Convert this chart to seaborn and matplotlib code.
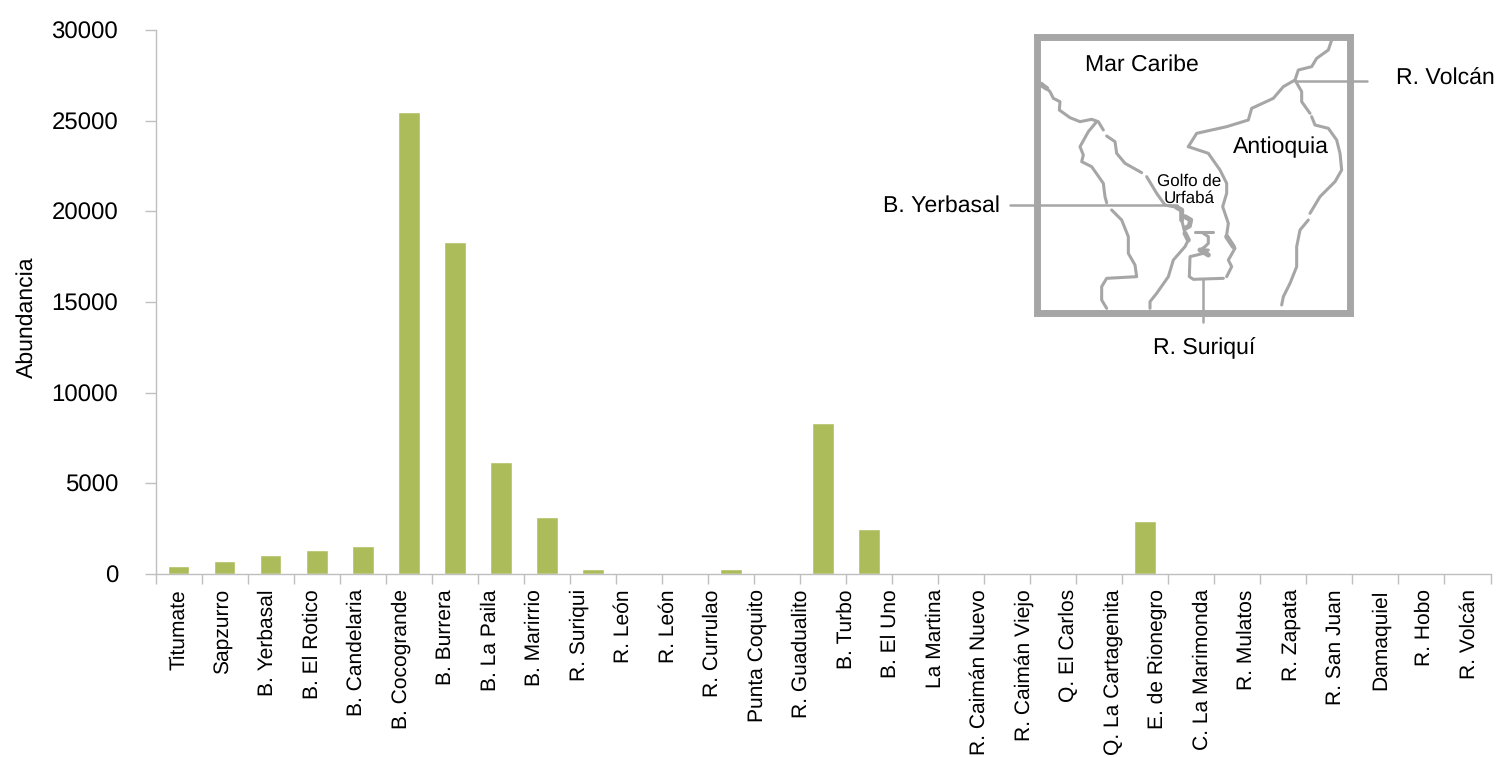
import numpy as np
import matplotlib.pyplot as plt
import seaborn as sns

# one slot per bar
sites = ['Titumate', 'Sapzurro', 'B. Yerbasal', 'B. El Rotico', 'B. Candelaria', 'B. Cocogrande',
         'B. Burrera', 'B. La Paila', 'B. Marirrio', 'R. Suriqui', 'R. León', 'R. Currulao',
         'Punta Coquito', 'R. Guadualito', 'B. Turbo', 'B. El Uno', 'La Martina', 'R. Caimán Nuevo',
         'R. Caimán Viejo', 'Q. El Carlos', 'Q. La Cartagenita', 'E. de Rionegro', 'C. La Marimonda',
         'R. Mulatos', 'R. Zapata', 'R. San Juan', 'Damaquiel', 'R. Hobo', 'R. Volcán']
abundance = [420, 700, 1030, 1310, 1530, 25460, 18290, 6160, 3130, 270, 0, 0,
             270, 0, 8310, 2470, 0, 0, 0, 0, 0, 2910, 0, 0, 0, 0, 0, 0, 0]

# the reference prints R. León twice, so its labels run on a slightly tighter grid
tick_names = sites[:11] + ['R. León'] + sites[11:]
y_ticks = [0, 5000, 10000, 15000, 20000, 25000, 30000]

GREEN = '#adbc5b'
GREY = '#a6a6a6'
AXIS = '#bfbfbf'

sns.set_style('white')
plt.rcParams['font.family'] = ['Liberation Sans', 'DejaVu Sans']
plt.rcParams['text.color'] = 'black'
plt.rcParams['axes.labelcolor'] = 'black'
plt.rcParams['xtick.color'] = 'black'
plt.rcParams['ytick.color'] = 'black'
plt.rcParams['text.hinting'] = 'no_hinting'
plt.rcParams['text.hinting_factor'] = 1

W, H = 1497, 757
fig = plt.figure(figsize=(W / 100, H / 100), dpi=100)
ax = fig.add_axes([155.6 / W, 1 - 574 / H, (1490.5 - 155.6) / W, (574 - 30) / H])

sns.barplot(x=sites, y=abundance, color=GREEN, saturation=1, width=0.47, ax=ax)
ax.set_xlim(-0.5, len(sites) - 0.5)
ax.set_ylim(0, 30000)
ax.set_yticks(y_ticks)
ax.set_xticks(np.arange(len(sites) + 1) - 0.5)
ax.set_xticklabels([])
ax.tick_params(axis='x', length=7, width=1, color=AXIS, bottom=True)
ax.tick_params(axis='y', length=8, width=1, color=AXIS, left=True, labelsize=17, pad=19, labelcolor='black')
ax.set_ylabel('Abundancia', fontsize=16.5)
ax.yaxis.set_label_coords((38 - 156) / 1334.5, 0.472)
sns.despine(ax=ax)
for side in ['left', 'bottom']:
    ax.spines[side].set_color(AXIS)
    ax.spines[side].set_linewidth(1)

ax2 = ax.twiny()
ax2.set_xlim(-0.5, len(tick_names) - 0.5)
ax2.xaxis.set_ticks_position('bottom')
ax2.set_xticks(np.arange(len(tick_names)) + 0.02)
ax2.set_xticklabels(tick_names, rotation=90, fontsize=15.1)
ax2.tick_params(axis='x', length=0, pad=11)
for s in ax2.spines.values():
    s.set_visible(False)

# inset map, traced in pixels of the picture
ov = fig.add_axes([0, 0, 1, 1], facecolor='none')
ov.set_xlim(0, W)
ov.set_ylim(H, 0)
ov.axis('off')
ov.add_patch(plt.Rectangle((1036.5, 36.5), 313, 276, fill=False, ec=GREY, lw=5))

map_lines = [
    [(125, 190), (150, 215), (160, 235), (180, 245), (178, 270), (210, 293), (240, 305), (275, 298), (295, 305), (310, 330)],
    [(320, 348), (345, 365), (350, 400), (375, 430), (425, 458)],
    [(440, 470), (470, 520), (495, 555), (530, 562), (545, 575), (545, 600), (555, 640), (565, 660), (555, 680),
     (520, 720), (505, 770), (470, 820), (450, 845), (450, 865)],
    [(290, 305), (265, 335), (240, 380), (250, 405), (245, 425), (275, 440), (310, 490), (315, 530), (320, 548)],
    [(335, 570), (365, 600), (385, 650), (385, 700), (405, 735), (410, 770), (320, 775), (305, 800), (305, 840), (320, 865)],
    [(565, 380), (590, 340), (680, 320), (745, 300), (755, 265), (820, 235), (850, 200), (885, 180), (895, 150),
     (935, 140), (950, 115), (985, 90), (995, 60)],
    [(565, 380), (625, 400), (660, 450), (680, 490), (680, 520), (668, 560), (685, 610), (680, 645), (705, 685),
     (685, 720), (695, 740), (680, 770)],
    [(885, 180), (905, 215), (905, 245), (930, 280)],
    [(935, 290), (945, 315), (985, 325), (1010, 360), (1020, 400), (1025, 450), (1005, 485), (960, 530), (930, 580)],
    [(925, 600), (900, 630), (890, 680), (890, 740), (870, 790), (850, 830), (845, 855)],
    [(585, 635), (640, 635)],
    [(610, 640), (625, 650), (625, 670), (615, 680), (600, 690), (625, 690), (610, 700), (570, 710), (568, 770),
     (580, 778), (670, 775)],
]
thick_lines = [
    [(125, 195), (140, 205)],
    [(530, 562), (545, 570), (545, 600)],
    [(555, 590), (572, 600), (568, 618), (555, 625)],
    [(555, 640), (565, 660)],
    [(600, 690), (625, 705)],
    [(680, 650), (700, 680)],
]
for line in map_lines:
    xs = [1000 + p[0] / 3 for p in line]
    ys = [20 + p[1] / 3 for p in line]
    ov.plot(xs, ys, color=GREY, lw=2.2, solid_capstyle='round', solid_joinstyle='round')
for line in thick_lines:
    xs = [1000 + p[0] / 3 for p in line]
    ys = [20 + p[1] / 3 for p in line]
    ov.plot(xs, ys, color=GREY, lw=3.6, solid_capstyle='round', solid_joinstyle='round')

# leaders from the map to the site names
for x0, y0, x1, y1 in [(1010, 205, 1177, 205), (1295, 81, 1367, 81), (1203, 279, 1203, 322)]:
    ov.plot([x0, x1], [y0, y1], color=GREY, lw=1.8)

labels = [('Mar Caribe', 1085, 65, 16.5), ('Antioquia', 1233, 147, 16.5), ('R. Volcán', 1396, 79, 16.5),
          ('B. Yerbasal', 883, 206, 16.5), ('R. Suriquí', 1153, 348, 16.5)]
for txt, x, y, size in labels:
    ov.text(x, y, txt, fontsize=size, va='center', ha='left')
ov.text(1189, 181, 'Golfo de', fontsize=12.5, va='center', ha='center')
ov.text(1189, 198, 'Urfabá', fontsize=12.5, va='center', ha='center')

fig.savefig('out.png', dpi=100)
